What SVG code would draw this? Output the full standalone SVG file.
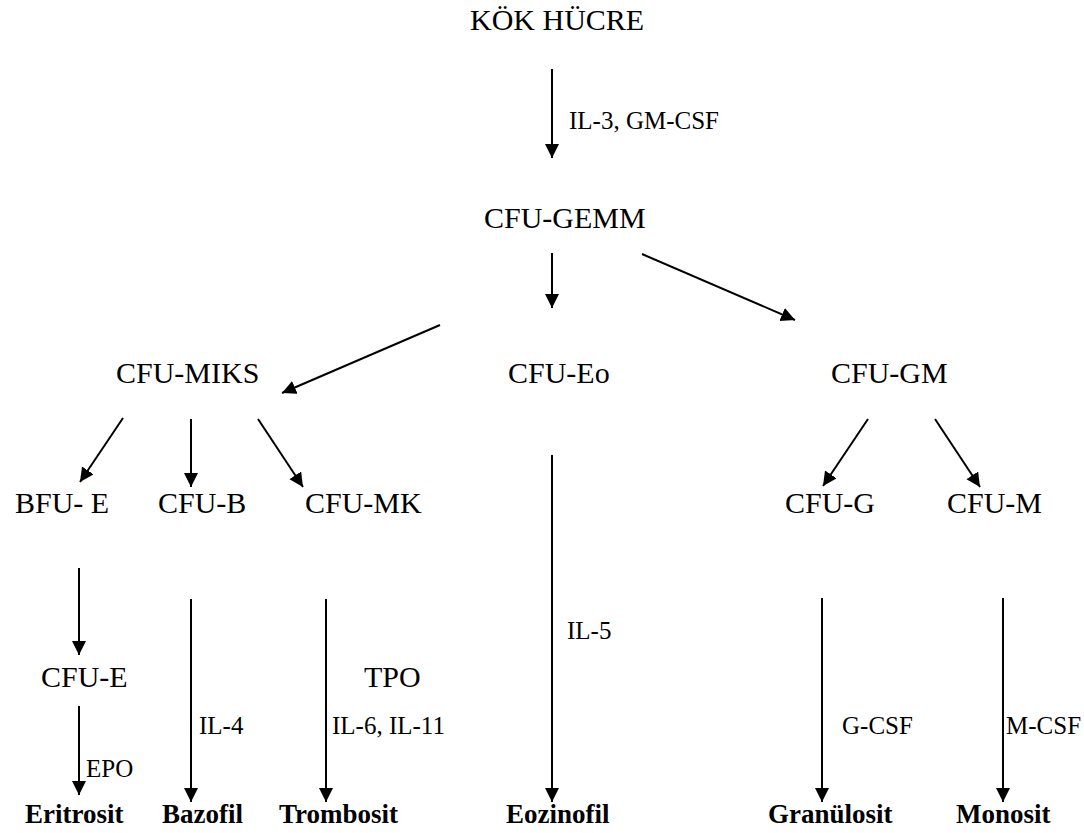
<svg xmlns="http://www.w3.org/2000/svg" width="1084" height="833" viewBox="0 0 1084 833">
  <style>
    text { font-family: "Liberation Serif", "Times New Roman", serif; fill: #000; }
    .big { font-size: 30px; }
    .small { font-size: 25px; }
    .cell { font-size: 27px; font-weight: bold; }
    .conn line { stroke: #000; stroke-width: 2; marker-end: url(#head); }
  </style>
  <defs>
    <marker id="head" markerUnits="userSpaceOnUse" markerWidth="15" markerHeight="15" refX="14" refY="7" orient="auto">
      <path d="M0,0 L14,7 L0,14 z" fill="#000"/>
    </marker>
  </defs>
  <rect width="1084" height="833" fill="#fff"/>

  <!-- connectors -->
  <g id="connectors" class="conn">
    <line x1="552" y1="69" x2="552" y2="158"/>
    <line x1="552" y1="253" x2="552" y2="308"/>
    <line x1="642" y1="254" x2="795" y2="320"/>
    <line x1="440" y1="325" x2="282" y2="393"/>
    <line x1="123" y1="418" x2="80" y2="482"/>
    <line x1="191" y1="419" x2="191" y2="487"/>
    <line x1="258" y1="419" x2="303" y2="487"/>
    <line x1="868" y1="419" x2="823" y2="486"/>
    <line x1="935" y1="419" x2="980" y2="487"/>
    <line x1="79" y1="568" x2="79" y2="655"/>
    <line x1="79" y1="706" x2="79" y2="795"/>
    <line x1="191" y1="599" x2="191" y2="802"/>
    <line x1="326" y1="599" x2="326" y2="802"/>
    <line x1="552" y1="455" x2="552" y2="802"/>
    <line x1="822" y1="598" x2="822" y2="802"/>
    <line x1="1003" y1="598" x2="1003" y2="802"/>
  </g>

  <!-- growth factor labels -->
  <g id="labels" class="small">
    <text x="569" y="129">IL-3, GM-CSF</text>
    <text x="364" y="687" class="big">TPO</text>
    <text x="199" y="734">IL-4</text>
    <text x="332" y="734">IL-6, IL-11</text>
    <text x="567" y="639">IL-5</text>
    <text x="842" y="734">G-CSF</text>
    <text x="1006" y="734">M-CSF</text>
    <text x="86" y="777">EPO</text>
  </g>

  <!-- progenitor nodes -->
  <g id="kok-hucre"><text class="big" x="470" y="30">KÖK HÜCRE</text></g>
  <g id="cfu-gemm"><text class="big" x="484" y="228">CFU-GEMM</text></g>
  <g id="cfu-miks"><text class="big" x="116" y="383">CFU-MIKS</text></g>
  <g id="cfu-eo"><text class="big" x="508" y="383">CFU-Eo</text></g>
  <g id="cfu-gm"><text class="big" x="831" y="383">CFU-GM</text></g>
  <g id="bfu-e"><text class="big" x="15" y="513">BFU- E</text></g>
  <g id="cfu-b"><text class="big" x="158" y="513">CFU-B</text></g>
  <g id="cfu-mk"><text class="big" x="305" y="513">CFU-MK</text></g>
  <g id="cfu-g"><text class="big" x="785" y="513">CFU-G</text></g>
  <g id="cfu-m"><text class="big" x="947" y="513">CFU-M</text></g>
  <g id="cfu-e"><text class="big" x="41" y="687">CFU-E</text></g>

  <!-- mature cells -->
  <g id="eritrosit"><text class="cell" x="25" y="823">Eritrosit</text></g>
  <g id="bazofil"><text class="cell" x="162" y="823">Bazofil</text></g>
  <g id="trombosit"><text class="cell" x="279" y="823">Trombosit</text></g>
  <g id="eozinofil"><text class="cell" x="506" y="823">Eozinofil</text></g>
  <g id="granulosit"><text class="cell" x="768" y="823">Granülosit</text></g>
  <g id="monosit"><text class="cell" x="956" y="823">Monosit</text></g>
</svg>
